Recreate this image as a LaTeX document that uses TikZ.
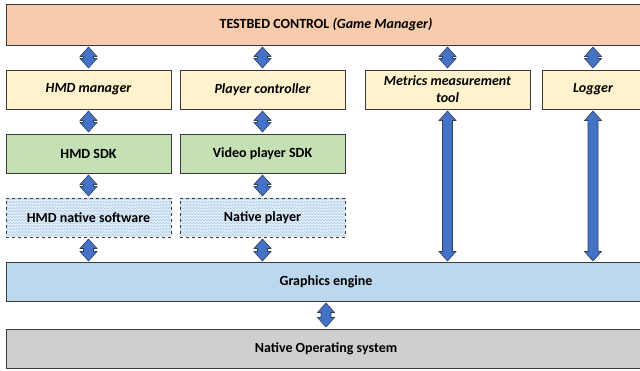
\documentclass[tikz,border=0pt]{standalone}
\usepackage{fontspec}
\setmainfont{Carlito}
\usetikzlibrary{calc,patterns}
\definecolor{topc}{HTML}{F8CBAD}
\definecolor{yelc}{HTML}{FFF2CC}
\definecolor{grnc}{HTML}{C5E0B4}
\definecolor{natc}{HTML}{EAF2FA}
\definecolor{hatc}{HTML}{A9CBEA}
\definecolor{gfxc}{HTML}{BDD7EE}
\definecolor{osc}{HTML}{D0CECE}
\definecolor{arrc}{HTML}{4472C4}
\definecolor{edgec}{HTML}{3A3A3A}
\definecolor{arredge}{HTML}{2F3F5F}
\tikzset{
  boxbase/.style={draw=edgec, line width=0.8pt, inner sep=0pt, outer sep=0pt, anchor=north west,
    font=\fontsize{14}{17}\selectfont\bfseries, align=center, text=black},
  colbox/.style={boxbase, minimum width=165pt, minimum height=39pt},
  widebox/.style={boxbase, minimum width=640pt, minimum height=39pt},
  mgrbox/.style={colbox, fill=yelc, font=\fontsize{14}{17}\selectfont\bfseries\itshape},
  sdkbox/.style={colbox, fill=grnc},
  natbox/.style={colbox, dashed, preaction={fill=natc}, pattern=crosshatch, pattern color=hatc},
  barrow/.style={draw=arredge, line width=0.6pt, fill=arrc, line join=miter},
}
% block double arrow between two anchors (vertical)
\newcommand\blkarrow[2]{%
  \path[barrow] let \p1=(#1), \p2=(#2) in
    (\x1,\y1) -- (\x1+8.5pt,\y1-9.5pt) -- (\x1+5pt,\y1-9.5pt) -- (\x1+5pt,\y2+9.5pt) -- (\x1+8.5pt,\y2+9.5pt)
    -- (\x1,\y2) -- (\x1-8.5pt,\y2+9.5pt) -- (\x1-5pt,\y2+9.5pt) -- (\x1-5pt,\y1-9.5pt) -- (\x1-8.5pt,\y1-9.5pt) -- cycle;}
\begin{document}
\begin{tikzpicture}[x=1pt,y=-1pt]
\useasboundingbox (0,0) rectangle (640,371);
\clip (0,0) rectangle (640,371);
\node[widebox, fill=topc, minimum height=41pt] (top) at (6,4) {TESTBED CONTROL \textit{(Game Manager)}};
\node[mgrbox] (hmdm) at (6,70) {HMD manager};
\node[mgrbox] (plc) at (180,70) {Player controller};
\node[mgrbox] (met) at (365,70) {Metrics measurement\\tool};
\node[mgrbox, minimum width=102pt] (log) at (542,70) {Logger};
\node[sdkbox] (hsdk) at (6,134) {HMD SDK};
\node[sdkbox] (vsdk) at (180,134) {Video player SDK};
\node[natbox] (hnat) at (6,198) {HMD native software};
\node[natbox] (pnat) at (180,198) {Native player};
\node[widebox, fill=gfxc] (gfx) at (6,262) {Graphics engine};
\node[widebox, fill=osc] (os) at (6,329) {Native Operating system};
% arrows
\blkarrow{$(hmdm.north |- top.south)+(0,2)$}{$(hmdm.north)+(0,-2)$}
\blkarrow{$(plc.north |- top.south)+(0,2)$}{$(plc.north)+(0,-2)$}
\blkarrow{$(met.north |- top.south)+(0,2)$}{$(met.north)+(0,-2)$}
\blkarrow{$(log.north |- top.south)+(0,2)$}{$(log.north)+(0,-2)$}
\blkarrow{$(hmdm.south)+(0,2)$}{$(hsdk.north)+(0,-2)$}
\blkarrow{$(plc.south)+(0,2)$}{$(vsdk.north)+(0,-2)$}
\blkarrow{$(hsdk.south)+(0,2)$}{$(hnat.north)+(0,-2)$}
\blkarrow{$(vsdk.south)+(0,2)$}{$(pnat.north)+(0,-2)$}
\blkarrow{$(hnat.south)+(0,2)$}{$(hnat.south |- gfx.north)+(0,-1)$}
\blkarrow{$(pnat.south)+(0,2)$}{$(pnat.south |- gfx.north)+(0,-1)$}
\blkarrow{$(met.south)+(0,2)$}{$(met.south |- gfx.north)+(0,-1)$}
\blkarrow{$(log.south)+(0,2)$}{$(log.south |- gfx.north)+(0,-1)$}
\blkarrow{$(gfx.south)+(0,2)$}{$(os.north)+(0,-2)$}
\end{tikzpicture}
\end{document}
